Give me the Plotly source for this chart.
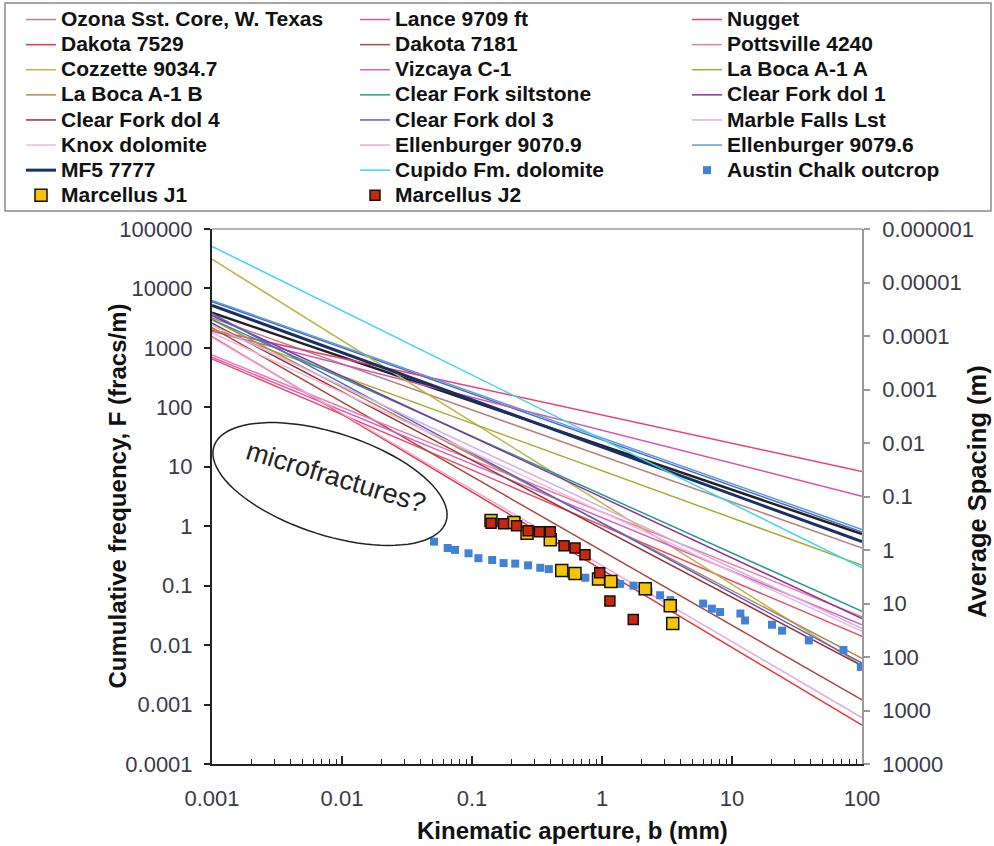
import numpy as np
import plotly.graph_objects as go

# ---------------- data ----------------
aperture_ends = [0.001, 100]  # mm, the two ends of every power-law fit

line_names = [
    "Ozona Sst. Core, W. Texas", "Lance 9709 ft", "Nugget",
    "Dakota 7529", "Dakota 7181", "Pottsville 4240",
    "Cozzette 9034.7", "Vizcaya C-1", "La Boca A-1 A",
    "La Boca A-1 B", "Clear Fork siltstone", "Clear Fork dol 1",
    "Clear Fork dol 4", "Clear Fork dol 3", "Marble Falls Lst",
    "Knox dolomite", "Ellenburger 9070.9", "Ellenburger 9079.6",
    "MF5 7777", "Cupido Fm. dolomite",
]
line_colors = [
    "#b58482", "#d452b6", "#ea3f78",
    "#e8383c", "#aa4b45", "#f07aa6",
    "#bdb64a", "#d862c2", "#a8ac36",
    "#b9874b", "#2a9a8c", "#8a3396",
    "#9a3132", "#5a60cc", "#d6b2e2",
    "#f4b6e0", "#eea6dc", "#5c98d8",
    "#1a2f66", "#3fd5f0",
]
# cumulative frequency (fracs/m) at b = 0.001 mm and at b = 100 mm
freq_left = [
    3200, 1900, 2000,
    1550, 2200, 760,
    31000, 700, 2100,
    3000, 3000, 3500,
    2600, 3800, 2400,
    1800, 1500, 6300,
    5200, 51000,
]
freq_right = [
    0.43, 3.2, 8.3,
    0.00045, 0.0012, 0.03,
    0.0045, 0.022, 0.22,
    0.006, 0.037, 0.028,
    0.0045, 0.005, 0.019,
    0.017, 0.0006, 0.88,
    0.55, 0.2,
]
line_widths = [1.5] * 18 + [3.0, 1.5]
line_legend = (["legend", "legend2", "legend3"] * 7)[:20]

# unlabelled fits also drawn in the figure
extra_colors = ["#222222", "#4868c8", "#e8506e"]
extra_left = [3900, 6000, 650]
extra_right = [0.74, 0.8, 0.014]
extra_widths = [2.5, 1.5, 1.5]

austin_b = [0.051, 0.065, 0.074, 0.094, 0.112, 0.143, 0.175, 0.215, 0.27, 0.335,
            0.39, 0.47, 0.58, 0.745, 0.97, 1.38, 1.75, 2.28, 2.8, 3.36,
            6.0, 7.0, 8.1, 11.6, 12.6, 20.3, 24.3, 39, 72, 98]
austin_f = [0.55, 0.43, 0.40, 0.35, 0.29, 0.27, 0.24, 0.235, 0.22, 0.20,
            0.19, 0.175, 0.155, 0.136, 0.124, 0.107, 0.10, 0.08, 0.069, 0.057,
            0.05, 0.041, 0.036, 0.034, 0.026, 0.022, 0.0175, 0.012, 0.0083, 0.0043]

j1_b = [0.14, 0.21, 0.265, 0.40, 0.49, 0.62, 0.94, 1.17, 2.15, 3.35, 3.5]
j1_f = [1.25, 1.15, 0.76, 0.59, 0.18, 0.16, 0.13, 0.117, 0.089, 0.046, 0.023]

j2_b = [0.14, 0.175, 0.22, 0.27, 0.33, 0.40, 0.51, 0.62, 0.74, 0.96, 1.15, 1.74]
j2_f = [1.12, 1.1, 1.02, 0.84, 0.81, 0.81, 0.47, 0.43, 0.33, 0.165, 0.055, 0.027]

left_ticks = [1e-4, 1e-3, 1e-2, 1e-1, 1, 10, 100, 1000, 1e4, 1e5]
left_ticktext = ["0.0001", "0.001", "0.01", "0.1", "1", "10", "100", "1000", "10000", "100000"]
right_ticks = [1e-6, 1e-5, 1e-4, 1e-3, 1e-2, 1e-1, 1, 10, 100, 1000, 1e4]
right_ticktext = ["0.000001", "0.00001", "0.0001", "0.001", "0.01", "0.1", "1", "10", "100", "1000", "10000"]
x_ticks = [0.001, 0.01, 0.1, 1, 10, 100]
x_ticktext = ["0.001", "0.01", "0.1", "1", "10", "100"]

# ---------------- figure ----------------
FONT = "Liberation Sans, Arial, sans-serif"
W, H = 650.0, 535.0          # plot area size in px
L0, B0 = 212.0, 764.0        # plot area left / bottom in px


def pxx(x):
    return (x - L0) / W


def pxy(y):
    return (B0 - y) / H


def leg(name):
    # large legend text on a tight row pitch
    return f"<span style='font-size:21px'>{name}</span>"


fig = go.Figure()

for c, fl, fr, w in zip(extra_colors, extra_left, extra_right, extra_widths):
    fig.add_trace(go.Scatter(x=aperture_ends, y=[fl, fr], mode="lines",
                             line=dict(color=c, width=w), showlegend=False,
                             hoverinfo="skip"))

for n, c, fl, fr, w, lg in zip(line_names, line_colors, freq_left, freq_right,
                               line_widths, line_legend):
    fig.add_trace(go.Scatter(x=aperture_ends, y=[fl, fr], mode="lines", name=leg(n),
                             legend=lg, line=dict(color=c, width=w)))

fig.add_trace(go.Scatter(x=austin_b, y=austin_f, mode="markers",
                         name=leg("Austin Chalk outcrop"), legend="legend3",
                         marker=dict(symbol="square", size=8, color="#4182d6")))
fig.add_trace(go.Scatter(x=j1_b, y=j1_f, mode="markers",
                         name=leg("Marcellus J1"), legend="legend",
                         marker=dict(symbol="square", size=12, color="#f6c400",
                                     line=dict(color="#111111", width=1.5))))
fig.add_trace(go.Scatter(x=j2_b, y=j2_f, mode="markers",
                         name=leg("Marcellus J2"), legend="legend2",
                         marker=dict(symbol="square", size=10, color="#c9260f",
                                     line=dict(color="#111111", width=1.5))))
# carrier for the right-hand axis
fig.add_trace(go.Scatter(x=[None], y=[None], yaxis="y2", showlegend=False, hoverinfo="skip"))

tickfont = dict(family=FONT, size=22, color="#3a3a48")
legfont = dict(family=FONT, size=17, color="#111111", weight="bold")


def legend_col(xpix):
    return dict(orientation="v", x=pxx(xpix), y=pxy(2), xanchor="left", yanchor="top",
                borderwidth=0, bgcolor="rgba(0,0,0,0)", font=legfont,
                traceorder="normal", tracegroupgap=0, itemwidth=30)


fig.update_layout(
    width=994, height=846,
    margin=dict(l=212, r=132, t=229, b=82, autoexpand=False),
    paper_bgcolor="white", plot_bgcolor="white",
    showlegend=True,
    legend=legend_col(21),
    legend2=legend_col(355),
    legend3=legend_col(687),
    xaxis=dict(type="log", range=[-3, 2], showgrid=False, zeroline=False,
               showline=True, linecolor="#222222", linewidth=2,
               ticks="inside", ticklen=8, tickwidth=1.5, tickcolor="#222222",
               tickvals=x_ticks, ticktext=x_ticktext, tickfont=tickfont,
               ticklabelstandoff=14,
               minor=dict(ticks="inside", ticklen=5, tickwidth=1.2, tickcolor="#222222",
                          dtick="D1", showgrid=False)),
    yaxis=dict(type="log", range=[-4, 5], showgrid=False, zeroline=False,
               showline=True, linecolor="#222222", linewidth=2,
               ticks="outside", ticklen=6, tickwidth=1.5, tickcolor="#222222",
               tickvals=left_ticks, ticktext=left_ticktext, tickfont=tickfont,
               ticklabelstandoff=7),
    yaxis2=dict(type="log", range=[4, -6], overlaying="y", side="right",
                showgrid=False, zeroline=False,
                showline=True, linecolor="#9a9a9a", linewidth=1.5,
                ticks="outside", ticklen=6, tickwidth=1.5, tickcolor="#9a9a9a",
                tickvals=right_ticks, ticktext=right_ticktext, tickfont=tickfont,
                ticklabelstandoff=8),
)

# legend frame
fig.add_shape(type="rect", xref="paper", yref="paper",
              x0=pxx(5), x1=pxx(991), y0=pxy(211), y1=pxy(3),
              line=dict(color="#8a8a8a", width=1.5), fillcolor="rgba(0,0,0,0)", layer="below")

# top frame line
fig.add_shape(type="line", xref="paper", yref="paper", x0=0, x1=1, y0=1, y1=1,
              line=dict(color="#9a9a9a", width=1.5))

# tilted ellipse around the "microfractures?" label
cx, cy, a, b, ang = 330.0, 484.0, 122.0, 51.0, np.deg2rad(18)
t = np.linspace(0, 2 * np.pi, 90)
ex = cx + a * np.cos(t) * np.cos(ang) - b * np.sin(t) * np.sin(ang)
ey = cy + a * np.cos(t) * np.sin(ang) + b * np.sin(t) * np.cos(ang)
path = "M " + " L ".join(f"{pxx(u):.4f},{pxy(v):.4f}" for u, v in zip(ex, ey)) + " Z"
fig.add_shape(type="path", xref="paper", yref="paper", path=path,
              line=dict(color="#222222", width=1.5))

fig.add_annotation(text="microfractures?", xref="paper", yref="paper",
                   x=pxx(336), y=pxy(477), xanchor="center", yanchor="middle",
                   showarrow=False, textangle=17,
                   font=dict(family=FONT, size=27, color="#222222"))

titlefont = dict(family=FONT, size=24, color="#111111")
fig.add_annotation(text="<b>Kinematic aperture, b (mm)</b>", xref="paper", yref="paper",
                   x=pxx(572), y=pxy(830), xanchor="center", yanchor="middle",
                   showarrow=False, font=titlefont)
fig.add_annotation(text="<b>Cumulative frequency, F (fracs/m)</b>", xref="paper", yref="paper",
                   x=pxx(117), y=0.5, xanchor="center", yanchor="middle",
                   showarrow=False, textangle=-90, font=titlefont)
fig.add_annotation(text="<b>Average Spacing (m)</b>", xref="paper", yref="paper",
                   x=pxx(977), y=pxy(492), xanchor="center", yanchor="middle",
                   showarrow=False, textangle=-90,
                   font=dict(family=FONT, size=25.5, color="#111111"))

fig.write_html("out.html")
